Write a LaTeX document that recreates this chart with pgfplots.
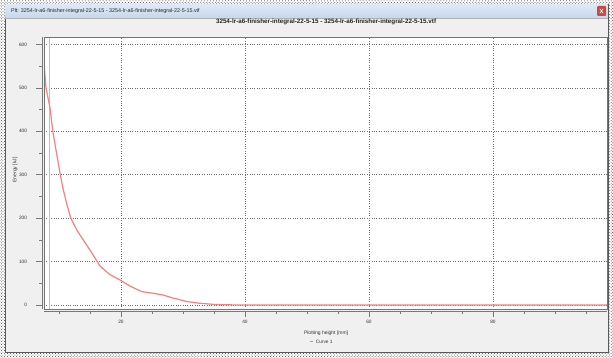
\documentclass[border=0pt]{standalone}
\usepackage{pgfplots}
\pgfplotsset{compat=1.18}
\usepackage{fontspec}
\setmainfont{Liberation Sans}
\usetikzlibrary{patterns}
\definecolor{winbg}{RGB}{240,240,240}
\definecolor{curve}{RGB}{240,130,130}
\definecolor{gridc}{RGB}{110,110,110}
\definecolor{axc}{RGB}{120,120,120}
\definecolor{tb1}{RGB}{222,233,246}
\definecolor{tb2}{RGB}{198,215,237}
\definecolor{closec}{RGB}{200,75,65}
\begin{document}
\begin{tikzpicture}
\useasboundingbox (0bp,0bp) rectangle (613bp,358bp);
% outer screenshot border
\fill[white] (0bp,0bp) rectangle (613bp,358bp);
\fill[pattern=crosshatch dots, pattern color=black!75] (0bp,0bp) rectangle (613bp,358bp);
% window
\fill[winbg] (5bp,6bp) rectangle (608bp,354bp);
\draw[black!65, line width=0.8bp] (5bp,6bp) rectangle (608bp,354bp);
% title bar
\shade[top color=tb1, bottom color=tb2] (5.4bp,340bp) rectangle (607.6bp,353.6bp);
\draw[black!30, line width=0.4bp] (5.4bp,340bp) -- (607.6bp,340bp);
\node[anchor=west, inner sep=0pt, font=\fontsize{5.4}{6}\selectfont, text=black!85] at (11bp,347bp) {Plt: 3254-lr-a6-finisher-integral-22-5-15 - 3254-lr-a6-finisher-integral-22-5-15.vtf};
\fill[closec, rounded corners=1bp] (597bp,342bp) rectangle (606bp,352bp);
\draw[white, line width=0.6bp] (599.8bp,344.8bp) -- (603.2bp,349.2bp) (599.8bp,349.2bp) -- (603.2bp,344.8bp);
\begin{axis}[
  at={(44bp,49bp)}, anchor=south west,
  scale only axis, width=563bp, height=272bp,
  xmin=7.58, xmax=98.4, ymin=-9.2, ymax=617,
  axis background/.style={fill=white},
  axis lines=left,
  axis line style={-, axc, line width=0.6bp},
  axis x line shift=2bp,
  axis y line shift=1.5bp,
  tick align=outside,
  major tick length=6bp, minor tick length=3bp,
  tick style={axc, line width=0.5bp},
  xtick={20,40,60,80},
  minor xtick={10,15,25,30,35,45,50,55,65,70,75,85,90,95},
  ytick={0,100,...,600},
  minor ytick={50,150,...,550},
  grid=major,
  major grid style={gridc, dotted, line width=0.6bp},
  /pgf/number format/assume math mode=true,
  ticklabel style={font=\fontsize{4.8}{5}\selectfont, text=black!80},
  yticklabel style={xshift=-6bp},
  title={3254-lr-a6-finisher-integral-22-5-15 - 3254-lr-a6-finisher-integral-22-5-15.vtf},
  title style={at={(axis description cs:0.501,1.033)}, anchor=center, inner sep=0pt, font=\fontsize{6.3}{7}\selectfont\bfseries, text=black!85},
  xlabel={Plotting height [mm]},
  xlabel style={at={(axis description cs:0.501,-0.088)}, anchor=center, inner sep=0pt, font=\fontsize{5}{6}\selectfont, text=black!80},
  ylabel={Energy [kJ]},
  ylabel style={at={(axis description cs:-0.0515,0.511)}, anchor=center, inner sep=0pt, font=\fontsize{5}{6}\selectfont, text=black!80},
  legend style={at={(axis description cs:0.494,-0.125)}, anchor=center, draw=none, fill=none, font=\fontsize{4.8}{5}\selectfont, text=black!80, inner sep=0pt},
  legend image code/.code={\draw[#1, line width=1.2bp] (0bp,1.6bp) -- (3bp,1.6bp);},
  clip=true,
  after end axis/.code={\draw[black!55, line width=0.6bp] (rel axis cs:0,0) rectangle (rel axis cs:1,1);},
]
\addplot[black!25, line width=1.0bp, forget plot] coordinates {(8.5,-9.2) (8.5,617)};
\addplot[curve, line width=1.2bp] coordinates {
(7.6,553) (7.9,500) (8.55,454) (9.0,400) (9.6,350) (10.2,300) (10.7,265)
(11.3,230) (11.9,200) (12.9,172) (13.9,150) (15.3,120) (16.6,90) (18.2,70)
(19.8,58) (21.4,44) (23.3,31) (25.2,27) (26.8,23) (28.4,16) (30.6,8)
(32.7,4) (34.9,1.5) (37,0.5) (40,0) (44,0) (98.4,0)};
\addlegendentry{Curve 1}
\end{axis}
\end{tikzpicture}
\end{document}
